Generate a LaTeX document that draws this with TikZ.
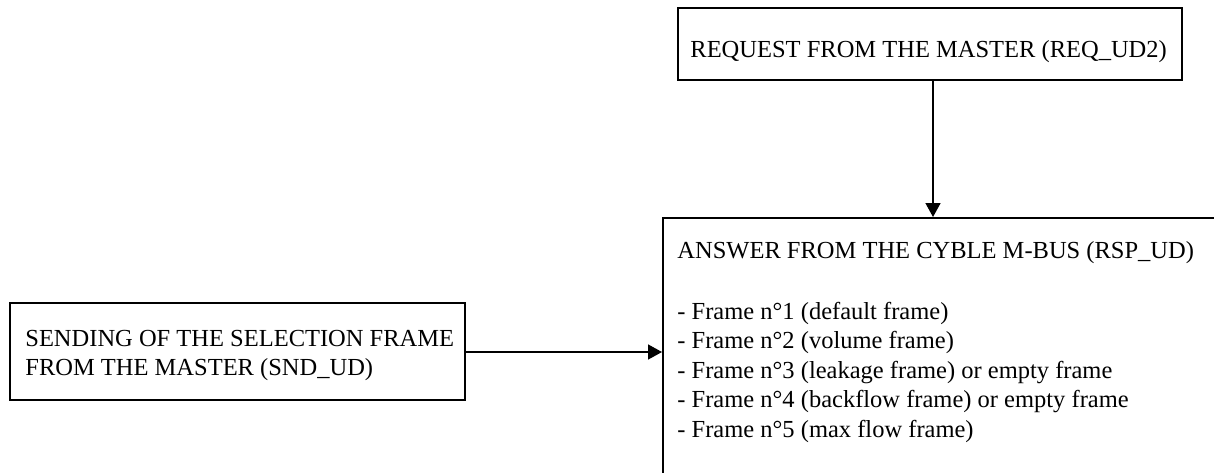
\documentclass[tikz,border=0pt]{standalone}
\usepackage{fontspec}
\setmainfont{Liberation Serif}
\usetikzlibrary{arrows.meta}
\tikzset{
  boxline/.style={draw=black, line width=0.75pt, fill=none, inner sep=0pt},
  txt/.style={anchor=base west, inner sep=0pt, font=\fontsize{12.25}{14.7}\selectfont},
  conn/.style={draw=black, line width=0.75pt, -{Triangle[length=7pt,width=7.5pt]}}
}
\begin{document}
\begin{tikzpicture}[x=0.5pt,y=-0.5pt]
\useasboundingbox (0,0) rectangle (1214,472);
\clip (0,0) rectangle (1214,472);
% boxes
\node[boxline, rectangle, minimum width=252pt, minimum height=36pt] (req) at (930,44) {};
\node[boxline, rectangle, minimum width=227.5pt, minimum height=48.5pt] (snd) at (237.5,351.5) {};
\node[boxline, rectangle, minimum width=300pt, minimum height=150pt, anchor=north west] (rsp) at (662,217) {};
% texts
\node[txt] (reqt) at (690,57) {REQUEST FROM THE MASTER (REQ\_UD2)};
\node[txt] (sndt1) at (25,346) {SENDING OF THE SELECTION FRAME};
\node[txt] (sndt2) at (25,375) {FROM THE MASTER (SND\_UD)};
\node[txt] (rspt) at (677,258) {ANSWER FROM THE CYBLE M-BUS (RSP\_UD)};
\node[txt] (f1) at (677,319) {- Frame n°1 (default frame)};
\node[txt] (f2) at (677,348.5) {- Frame n°2 (volume frame)};
\node[txt] (f3) at (677,378) {- Frame n°3 (leakage frame) or empty frame};
\node[txt] (f4) at (677,407.5) {- Frame n°4 (backflow frame) or empty frame};
\node[txt] (f5) at (677,437) {- Frame n°5 (max flow frame)};
% connectors
\coordinate (rsptop) at (933,217);
\coordinate (rspleft) at (662,352);
\draw[conn] (req.south -| rsptop) -- (rsptop);
\draw[conn] (snd.east |- rspleft) -- (rspleft);
\end{tikzpicture}
\end{document}
